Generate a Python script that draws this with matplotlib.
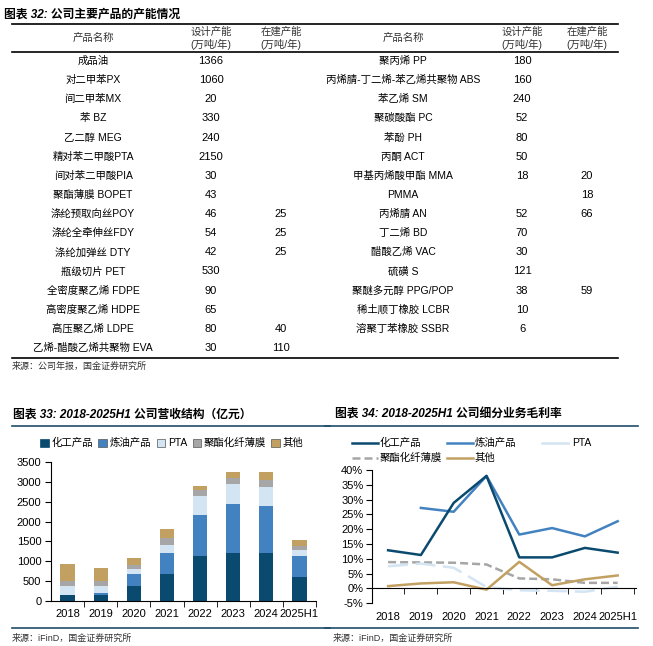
import matplotlib
matplotlib.use("Agg")
import matplotlib.pyplot as plt
import numpy as np
from matplotlib.lines import Line2D
from matplotlib.patches import Patch

plt.rcParams['font.family'] = ['Liberation Sans', 'Noto Sans CJK SC']
plt.rcParams['axes.unicode_minus'] = False

W, H = 653, 646

# ---------------- table data ----------------
left_names = ["成品油", "对二甲苯PX", "间二甲苯MX", "苯 BZ", "乙二醇 MEG", "精对苯二甲酸PTA",
              "间对苯二甲酸PIA", "聚酯薄膜 BOPET", "涤纶预取向丝POY", "涤纶全牵伸丝FDY",
              "涤纶加弹丝 DTY", "瓶级切片 PET", "全密度聚乙烯 FDPE", "高密度聚乙烯 HDPE",
              "高压聚乙烯 LDPE", "乙烯-醋酸乙烯共聚物 EVA"]
left_design = ["1366", "1060", "20", "330", "240", "2150", "30", "43", "46", "54", "42",
               "530", "90", "65", "80", "30"]
left_build = ["", "", "", "", "", "", "", "", "25", "25", "25", "", "", "", "40", "110"]

right_names = ["聚丙烯 PP", "丙烯腈-丁二烯-苯乙烯共聚物 ABS", "苯乙烯 SM", "聚碳酸酯 PC", "苯酚 PH",
               "丙酮 ACT", "甲基丙烯酸甲酯 MMA", "PMMA", "丙烯腈 AN", "丁二烯 BD", "醋酸乙烯 VAC",
               "硫磺 S", "聚醚多元醇 PPG/POP", "稀土顺丁橡胶 LCBR", "溶聚丁苯橡胶 SSBR"]
right_design = ["180", "160", "240", "52", "80", "50", "18", "", "52", "70", "30", "121",
                "38", "10", "6"]
right_build = ["", "", "", "", "", "", "20", "18", "66", "", "", "", "59", "", ""]

# ---------------- chart 33 data ----------------
years = ["2018", "2019", "2020", "2021", "2022", "2023", "2024", "2025H1"]
rev_chem = [155, 155, 388, 672, 1138, 1216, 1216, 595]
rev_refine = [0, 35, 284, 544, 1022, 1216, 1167, 543]
rev_pta = [233, 198, 130, 206, 494, 519, 493, 155]
rev_poly = [112, 112, 112, 156, 140, 148, 173, 104]
rev_other = [431, 328, 172, 232, 107, 148, 198, 129]

# ---------------- chart 34 data ----------------
gm_chem = [12.9, 11.3, 28.9, 38.0, 10.5, 10.5, 13.7, 12.1]
gm_refine = [np.nan, 27.2, 25.9, 38.0, 18.2, 20.4, 17.6, 22.7]
gm_pta = [7.5, 8.4, 7.0, 0.5, -0.6, -0.8, -1.1, 0.6]
gm_poly = [8.9, 8.8, 8.7, 8.1, 3.4, 3.1, 1.9, 1.9]
gm_other = [0.8, 1.7, 2.1, -0.4, 9.0, 1.1, 3.1, 4.4]

C_DARK = '#0B4A6F'
C_MID = '#4382C0'
C_PTA = '#D3E4F3'
C_GRAY = '#A6A6A6'
C_TAN = '#C2A062'
C_RULE = '#1F4E6A'

fig = plt.figure(figsize=(W / 100, H / 100), dpi=100)


def fx(x):
    return x / W


def fy(y):
    return 1 - y / H


def T(x, y, s, ha='center', size=7.5, **kw):
    fig.text(fx(x), fy(y), s, ha=ha, va='center', fontsize=size, **kw)


def HL(y, x0, x1, color='black', lw=1.2):
    fig.add_artist(Line2D([fx(x0), fx(x1)], [fy(y), fy(y)], color=color, lw=lw,
                          transform=fig.transFigure))


# ---------------- table ----------------
T(4, 15, "图表 32: 公司主要产品的产能情况", ha='left', size=8.5, fontweight='bold', style='italic')
HL(24, 12, 618)
HL(52, 12, 618)
HL(358, 12, 618)

for cx in (93, 403):
    T(cx, 38, "产品名称", color='#333333')
for cx in (211, 522):
    T(cx, 31.5, "设计产能", color='#333333')
    T(cx, 44.5, "(万吨/年)", color='#333333')
for cx in (281, 587):
    T(cx, 31.5, "在建产能", color='#333333')
    T(cx, 44.5, "(万吨/年)", color='#333333')

row0, dy = 61, 19.13
for i, (n, d, b) in enumerate(zip(left_names, left_design, left_build)):
    y = row0 + i * dy
    T(93, y, n)
    T(211, y, d, size=8)
    T(281, y, b, size=8)
for i, (n, d, b) in enumerate(zip(right_names, right_design, right_build)):
    y = row0 + i * dy
    T(403, y, n)
    T(522, y, d, size=8)
    T(587, y, b, size=8)

T(12, 366.5, "来源：公司年报，国金证券研究所", ha='left', size=6.5, color='#333333')

# ---------------- chart titles & rules ----------------
T(13, 415, "图表 33: 2018-2025H1 公司营收结构（亿元）", ha='left', size=8.5,
  fontweight='bold', style='italic')
T(335, 415, "图表 34: 2018-2025H1 公司细分业务毛利率", ha='left', size=8.5,
  fontweight='bold', style='italic')
HL(426, 12, 330, color=C_RULE, lw=1.2)
HL(426, 325, 638, color=C_RULE, lw=1.2)
HL(628, 12, 330, color=C_RULE, lw=1.2)
HL(628, 325, 638, color=C_RULE, lw=1.2)
T(12, 638, "来源：iFinD，国金证券研究所", ha='left', size=6.5, color='#333333')
T(333, 638, "来源：iFinD，国金证券研究所", ha='left', size=6.5, color='#333333')

# ---------------- chart 33: stacked bars ----------------
ax1 = fig.add_axes([fx(51), fy(601), fx(316) - fx(51), fy(462) - fy(601)])
x = np.arange(len(years))
bw = 0.43
series = [(rev_chem, C_DARK, "化工产品"), (rev_refine, C_MID, "炼油产品"),
          (rev_pta, C_PTA, "PTA"), (rev_poly, C_GRAY, "聚酯化纤薄膜"), (rev_other, C_TAN, "其他")]
bottom = np.zeros(len(years))
for vals, col, lab in series:
    v = np.array(vals, dtype=float)
    ax1.bar(x, v, bw, bottom=bottom, color=col, label=lab, linewidth=0)
    bottom += v
ax1.set_xlim(-0.5, 7.5)
ax1.set_ylim(0, 3500)
ax1.set_yticks(np.arange(0, 3501, 500))
ax1.set_xticks(x)
ax1.set_xticklabels(years)
ax1.set_xticks(np.arange(0.5, 7.6, 1), minor=True)
ax1.tick_params(axis='x', which='major', length=0, pad=6, labelsize=8)
ax1.tick_params(axis='x', which='minor', length=4, direction='out')
ax1.tick_params(axis='y', length=4, direction='out', labelsize=8, pad=3)
for s in ('top', 'right'):
    ax1.spines[s].set_visible(False)
handles = [Patch(facecolor=c, edgecolor=C_DARK if i == 0 else '#555555', linewidth=0.5, label=l)
           for i, (_, c, l) in enumerate(series)]
fig.legend(handles=handles, loc='center', bbox_to_anchor=(fx(172), fy(443)), ncol=5,
           frameon=False, fontsize=7.5, handlelength=0.8, handleheight=0.8,
           handletextpad=0.3, columnspacing=0.5, borderpad=0)

# ---------------- chart 34: lines ----------------
ax2 = fig.add_axes([fx(371.7), fy(603.3), fx(635.7) - fx(371.7), fy(470) - fy(603.3)])
ax2.plot(x, gm_poly, color=C_GRAY, lw=1.8, dashes=(3.2, 1.6))
ax2.plot(x, gm_pta, color=C_PTA, lw=1.8, dashes=(8, 3))
ax2.plot(x, gm_other, color=C_TAN, lw=1.8)
ax2.plot(x, gm_refine, color=C_MID, lw=1.8)
ax2.plot(x, gm_chem, color=C_DARK, lw=1.8)
ax2.set_xlim(-0.5, 7.55)
ax2.set_ylim(-5, 40)
ax2.set_yticks(np.arange(-5, 41, 5))
ax2.set_yticklabels([f"{v}%" for v in range(-5, 41, 5)])
ax2.spines['bottom'].set_position(('data', 0))
for s in ('top', 'right'):
    ax2.spines[s].set_visible(False)
ax2.set_xticks(x)
ax2.set_xticklabels(years)
ax2.set_xticks(np.arange(0.5, 7.6, 1), minor=True)
ax2.tick_params(axis='x', which='major', length=0, pad=17, labelsize=8)
ax2.tick_params(axis='x', which='minor', length=4, direction='out')
ax2.tick_params(axis='y', length=4, direction='out', labelsize=8, pad=2)

# legend for chart 34 (manual layout)
leg_items = [(352, 443, C_DARK, None, "化工产品"), (447, 443, C_MID, None, "炼油产品"),
             (542, 443, C_PTA, None, "PTA"), (352, 458, C_GRAY, (3.2, 1.6), "聚酯化纤薄膜"),
             (447, 458, C_TAN, None, "其他")]
for x0, y0, c, d, lab in leg_items:
    ln = Line2D([fx(x0), fx(x0 + 26)], [fy(y0), fy(y0)], color=c, lw=1.8,
                transform=fig.transFigure)
    if d:
        ln.set_dashes(d)
    fig.add_artist(ln)
    T(x0 + (28 if lab != "PTA" else 30), y0, lab, ha='left', size=7.5)

fig.savefig("out.png", dpi=100)
